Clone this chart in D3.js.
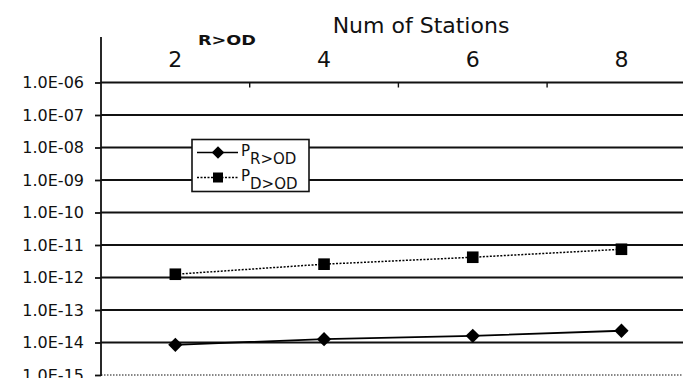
<!DOCTYPE html>
<html>
<head>
<meta charset="utf-8">
<script src="https://cdn.jsdelivr.net/npm/d3@7"></script>
<style>
  body { margin: 0; background: #fff; }
  text { font-family: "DejaVu Sans", sans-serif; fill: #111; }
</style>
</head>
<body>
<svg id="chart" width="683" height="378"></svg>
<script>
// values
const stations = ["2", "4", "6", "8"];
const pROD = [8.5e-15, 1.27e-14, 1.6e-14, 2.3e-14];
const pDOD = [1.26e-12, 2.57e-12, 4.2e-12, 7.4e-12];
const decades = [1e-6, 1e-7, 1e-8, 1e-9, 1e-10, 1e-11, 1e-12, 1e-13, 1e-14, 1e-15];

let svg = d3.select("#chart");

let x = d3.scaleBand()
    .domain(stations)
    .range([101, 101 + 4 * 148.7]);

let y = d3.scaleLog()
    .domain([1e-15, 1e-6])
    .range([375, 82.5]);

function fmtE(v){
    let e = Math.round(Math.log10(v));
    let s = String(Math.abs(e)).padStart(2, "0");
    return "1.0E" + (e < 0 ? "-" : "+") + s;
}

// gridlines (bottom one dotted)
svg.append("g").selectAll("line")
    .data(decades)
    .enter().append("line")
    .attr("x1", 101).attr("x2", 683)
    .attr("y1", d => y(d)).attr("y2", d => y(d))
    .attr("stroke", "#111")
    .attr("stroke-width", d => d === 1e-15 ? 1.2 : 1.8)
    .attr("stroke-dasharray", d => d === 1e-15 ? "1.5,1.5" : null);

// y axis
let yAxis = svg.append("g")
    .attr("transform", "translate(101,0)")
    .call(d3.axisLeft(y).tickValues(decades).tickFormat(fmtE).tickSize(6).tickPadding(11));
yAxis.select(".domain").remove();
yAxis.selectAll(".tick line").attr("stroke", "#111").attr("stroke-width", 1.8);
yAxis.selectAll("text").style("font-size", "16px").attr("fill", "#111");

svg.append("line")
    .attr("x1", 101).attr("x2", 101)
    .attr("y1", 37).attr("y2", 376)
    .attr("stroke", "#111").attr("stroke-width", 1.8);

// x axis on top (category labels)
let xAxis = svg.append("g")
    .attr("transform", "translate(0," + y(1e-6) + ")")
    .call(d3.axisTop(x).tickSize(0).tickPadding(16));
xAxis.select(".domain").remove();
xAxis.selectAll("text").style("font-size", "22px").attr("fill", "#111");

// boundary ticks between categories
svg.append("g").selectAll("line")
    .data(stations.slice(0, 3))
    .enter().append("line")
    .attr("x1", d => x(d) + x.bandwidth()).attr("x2", d => x(d) + x.bandwidth())
    .attr("y1", y(1e-6)).attr("y2", y(1e-6) + 5)
    .attr("stroke", "#111").attr("stroke-width", 1.4);

svg.append("text")
    .attr("x", 421).attr("y", 33)
    .attr("text-anchor", "middle")
    .style("font-size", "22px")
    .text("Num of Stations");

svg.append("text")
    .attr("x", 198).attr("y", 45)
    .attr("textLength", 58).attr("lengthAdjust", "spacingAndGlyphs")
    .style("font-size", "14px").style("font-weight", "bold")
    .text("R>OD");

let cx = d => x(d) + x.bandwidth() / 2;

let line = d3.line()
    .x((d, i) => cx(stations[i]))
    .y(d => y(d));

// P R>OD: solid, diamonds
svg.append("path")
    .datum(pROD)
    .attr("d", line)
    .attr("fill", "none")
    .attr("stroke", "#000")
    .attr("stroke-width", 1.8);

let diamond = d3.symbol().type(d3.symbolDiamond2).size(130);
let square = d3.symbol().type(d3.symbolSquare).size(135);

svg.append("g").selectAll("path")
    .data(pROD)
    .enter().append("path")
    .attr("d", diamond)
    .attr("transform", (d, i) => "translate(" + cx(stations[i]) + "," + y(d) + ")")
    .attr("fill", "#000");

// P D>OD: dotted, squares
svg.append("path")
    .datum(pDOD)
    .attr("d", line)
    .attr("fill", "none")
    .attr("stroke", "#000")
    .attr("stroke-width", 1.5)
    .attr("stroke-dasharray", "2,1.5");

svg.append("g").selectAll("path")
    .data(pDOD)
    .enter().append("path")
    .attr("d", square)
    .attr("transform", (d, i) => "translate(" + cx(stations[i]) + "," + y(d) + ")")
    .attr("fill", "#000");

// legend
let legend = svg.append("g");
legend.append("rect")
    .attr("x", 192).attr("y", 139.5)
    .attr("width", 117).attr("height", 52)
    .attr("fill", "#fff")
    .attr("stroke", "#111").attr("stroke-width", 1.6);

let legendItems = [
    {sub: "R>OD", dash: null, symbol: diamond, ly: 152.5},
    {sub: "D>OD", dash: "2,1.5", symbol: square, ly: 177.5}
];
legendItems.forEach(it => {
    legend.append("line")
        .attr("x1", 197).attr("x2", 238)
        .attr("y1", it.ly).attr("y2", it.ly)
        .attr("stroke", "#000").attr("stroke-width", 1.4)
        .attr("stroke-dasharray", it.dash);
    legend.append("path")
        .attr("d", it.symbol.size(it.symbol === diamond ? 100 : 100))
        .attr("transform", "translate(218," + it.ly + ")")
        .attr("fill", "#000");
    let t = legend.append("text")
        .attr("x", 241).attr("y", it.ly + 3)
        .style("font-size", "15px");
    t.append("tspan").text("P");
    t.append("tspan").attr("dy", 8).text(it.sub);
});
</script>
</body>
</html>
